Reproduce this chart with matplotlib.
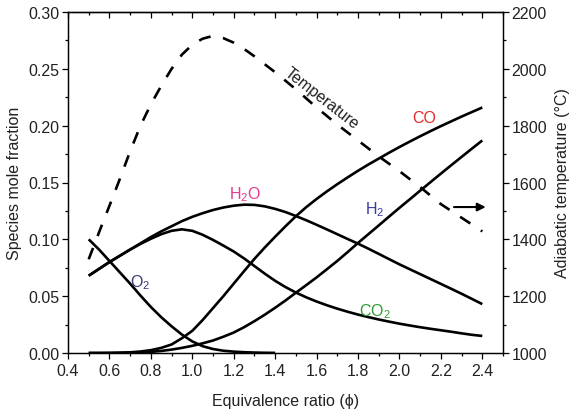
import matplotlib
matplotlib.use("Agg")
import matplotlib.pyplot as plt
from matplotlib.ticker import MultipleLocator, FormatStrFormatter

plt.rcParams['font.family'] = ['Liberation Sans', 'DejaVu Sans']
plt.rcParams['mathtext.fontset'] = 'custom'
plt.rcParams['mathtext.rm'] = 'Liberation Sans'

phi = [0.50, 0.55, 0.60, 0.65, 0.70, 0.75, 0.80, 0.85, 0.90, 0.95,
       1.00, 1.05, 1.10, 1.15, 1.20, 1.25, 1.30, 1.35, 1.40, 1.45,
       1.50, 1.55, 1.60, 1.65, 1.70, 1.75, 1.80, 1.85, 1.90, 1.95,
       2.00, 2.05, 2.10, 2.15, 2.20, 2.25, 2.30, 2.35, 2.40]
h2o = [0.068, 0.074, 0.080, 0.0855, 0.091, 0.0965, 0.102, 0.107, 0.1115, 0.116,
       0.1198, 0.123, 0.1258, 0.128, 0.1296, 0.1305, 0.1303, 0.129, 0.1268, 0.124,
       0.1205, 0.1168, 0.1128, 0.1087, 0.1045, 0.1003, 0.0962, 0.0918, 0.0872, 0.0826,
       0.078, 0.0737, 0.0694, 0.0651, 0.0608, 0.0565, 0.0521, 0.0476, 0.043]
co2 = [0.068, 0.074, 0.080, 0.0855, 0.091, 0.096, 0.1005, 0.1045, 0.1075, 0.1088,
       0.1075, 0.104, 0.0995, 0.0945, 0.0893, 0.0832, 0.0765, 0.0698, 0.0635, 0.058,
       0.0532, 0.049, 0.0453, 0.042, 0.039, 0.0363, 0.0338, 0.0316, 0.0295, 0.0276,
       0.0258, 0.0242, 0.0227, 0.0213, 0.020, 0.0187, 0.0173, 0.016, 0.015]
co = [0.0, 0.0, 0.0001, 0.0003, 0.0006, 0.0013, 0.0025, 0.0045, 0.0075, 0.013,
      0.0195, 0.029, 0.0395, 0.050, 0.061, 0.072, 0.0828, 0.0928, 0.1023, 0.1115,
      0.1203, 0.1283, 0.1355, 0.1422, 0.1485, 0.1545, 0.1603, 0.1658, 0.171, 0.1762,
      0.1812, 0.186, 0.1907, 0.1952, 0.1996, 0.2038, 0.208, 0.212, 0.216]
h2 = [0.0, 0.0, 0.0, 0.0001, 0.0002, 0.0005, 0.001, 0.0018, 0.003, 0.0045,
      0.0063, 0.0085, 0.011, 0.0143, 0.018, 0.0227, 0.028, 0.0337, 0.0398, 0.0462,
      0.053, 0.0597, 0.0665, 0.0737, 0.081, 0.0888, 0.0968, 0.1045, 0.1122, 0.120,
      0.1277, 0.1352, 0.1428, 0.1503, 0.1578, 0.1652, 0.1725, 0.1798, 0.187]
phi_o2 = [0.50, 0.55, 0.60, 0.65, 0.70, 0.75, 0.80, 0.85, 0.90, 0.95,
          1.00, 1.05, 1.10, 1.15, 1.20, 1.25, 1.30, 1.35, 1.40]
o2 = [0.100, 0.091, 0.081, 0.071, 0.061, 0.0505, 0.0405, 0.0315, 0.0235, 0.0162,
      0.0102, 0.006, 0.0035, 0.002, 0.0012, 0.0007, 0.0004, 0.0002, 0.0001]
temp = [1330, 1425, 1518, 1612, 1710, 1800, 1875, 1940, 2000, 2050,
        2085, 2106, 2116, 2108, 2092, 2070, 2044, 2016, 1988, 1958,
        1928, 1896, 1864, 1834, 1804, 1776, 1748, 1720, 1692, 1666,
        1640, 1612, 1584, 1554, 1524, 1500, 1476, 1452, 1428]

x_ticks = [0.4, 0.6, 0.8, 1.0, 1.2, 1.4, 1.6, 1.8, 2.0, 2.2, 2.4]
y_ticks = [0.00, 0.05, 0.10, 0.15, 0.20, 0.25, 0.30]
t_ticks = [1000, 1200, 1400, 1600, 1800, 2000, 2200]

fig = plt.figure(figsize=(5.75, 4.1), dpi=100)
ax = fig.add_axes([68/575, 1-354/410, (503-68)/575, (354-13)/410])
ax2 = ax.twinx()

lw = 1.9
for ys in (h2o, co2, co, h2):
    ax.plot(phi, ys, color='black', lw=lw, solid_capstyle='butt', solid_joinstyle='round')
ax.plot(phi_o2, o2, color='black', lw=lw, solid_capstyle='butt', solid_joinstyle='round')
ax2.plot(phi, temp, color='black', lw=1.9, dashes=(4.6, 4.8), dash_capstyle='butt')

ax.set_xlim(0.4, 2.5)
ax.set_ylim(0, 0.30)
ax2.set_ylim(1000, 2200)
ax.set_xticks(x_ticks)
ax.set_yticks(y_ticks)
ax2.set_yticks(t_ticks)
ax.xaxis.set_minor_locator(MultipleLocator(0.1))
ax.yaxis.set_minor_locator(MultipleLocator(0.025))
ax2.yaxis.set_minor_locator(MultipleLocator(100))
ax.xaxis.set_major_formatter(FormatStrFormatter('%.1f'))
ax.yaxis.set_major_formatter(FormatStrFormatter('%.2f'))

fs = 11.5
tc = '#222222'
ax.tick_params(axis='x', which='both', direction='out', top=False, labelsize=fs, pad=3, labelcolor=tc)
ax.tick_params(axis='y', which='both', direction='out', labelsize=fs, pad=2, labelcolor=tc)
ax.tick_params(which='major', length=4, width=0.9)
ax.tick_params(which='minor', length=2.5, width=0.9)
ax2.tick_params(axis='y', which='both', direction='out', labelsize=fs, pad=2, labelcolor=tc)
ax2.tick_params(which='major', length=4, width=0.9)
ax2.tick_params(which='minor', length=2.5, width=0.9)

sec = ax.secondary_xaxis('top')
sec.set_xticks(x_ticks)
sec.xaxis.set_minor_locator(MultipleLocator(0.1))
sec.tick_params(axis='x', which='both', direction='in', labeltop=False)
sec.tick_params(which='major', length=4, width=0.9)
sec.tick_params(which='minor', length=2.5, width=0.9)

for a in (ax, ax2, sec):
    for s in a.spines.values():
        s.set_linewidth(0.9)

ax.set_xlabel('Equivalence ratio (\u03d5)', fontsize=fs, labelpad=11, color=tc)
ax.set_ylabel('Species mole fraction', fontsize=fs, labelpad=5, color=tc)
ax2.set_ylabel('Adiabatic temperature (\u00b0C)', fontsize=fs, labelpad=6, color=tc)

tfs = 11.5
ax.text(1.253, 0.140, r'H$_2$O', color='#e6398f', fontsize=tfs, ha='center', va='center')
ax.text(2.12, 0.2076, 'CO', color='#e5282b', fontsize=tfs, ha='center', va='center')
ax.text(1.88, 0.127, r'H$_2$', color='#3a3aa0', fontsize=tfs, ha='center', va='center')
ax.text(1.88, 0.037, r'CO$_2$', color='#2f9a2f', fontsize=tfs, ha='center', va='center')
ax.text(0.747, 0.0625, r'O$_2$', color='#3a3a78', fontsize=tfs, ha='center', va='center')
ax.text(1.624, 0.225, 'Temperature', color='#222222', fontsize=tfs, ha='center', va='center',
        rotation=-38, rotation_mode='anchor')
ax.annotate('', xy=(2.43, 0.1284), xytext=(2.25, 0.1284),
            arrowprops=dict(arrowstyle='-|>', color='black', lw=1.5, mutation_scale=12))

fig.savefig('out.png', dpi=100)
